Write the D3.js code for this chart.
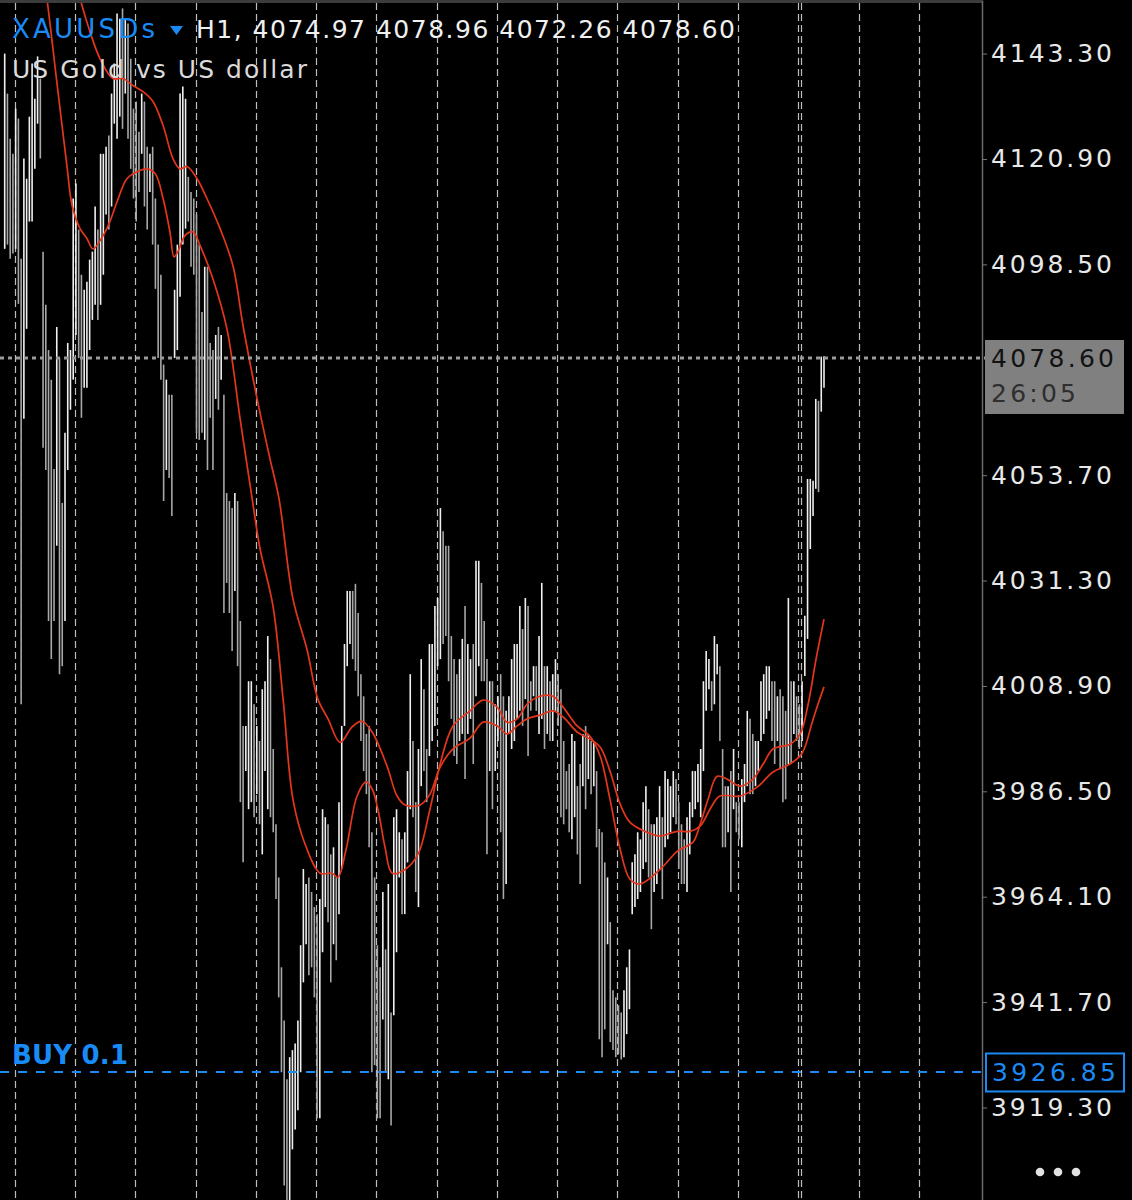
<!DOCTYPE html>
<html><head><meta charset="utf-8">
<script src="https://cdn.jsdelivr.net/npm/d3@7"></script>
<style>html,body{margin:0;padding:0;background:#000;overflow:hidden}</style>
</head><body><svg id="c" width="1132" height="1200"></svg>
<script>
// ---- DATA ----
const symbol = "XAUUSDs";
const headerValues = "H1, 4074.97 4078.96 4072.26 4078.60";
const description = "US Gold vs US dollar";
const highs = [4143.3,4134.8,4125.2,4122.0,4131.6,4129.5,4099.7,4121.0,4116.7,4129.9,4141.2,4133.7,4142.7,4138.0,4101.2,4089.9,4080.3,4074.0,4055.0,4085.2,4078.6,4047.8,4062.7,4081.8,4080.3,4112.5,4115.7,4105.9,4096.3,4093.1,4094.8,4099.5,4101.2,4110.8,4105.9,4122.0,4122.0,4123.5,4125.9,4134.8,4141.2,4151.8,4150.7,4152.9,4150.7,4149.7,4142.2,4131.6,4133.1,4126.7,4134.8,4133.1,4123.5,4122.0,4123.5,4112.5,4102.7,4096.3,4077.2,4074.0,4070.8,4070.8,4093.1,4102.7,4134.8,4136.3,4133.7,4117.1,4113.9,4112.5,4109.1,4102.7,4088.4,4098.0,4098.0,4081.8,4080.3,4083.5,4085.2,4083.5,4070.8,4049.9,4048.2,4046.7,4049.9,4048.2,4022.7,4000.4,4000.4,4009.9,4009.9,4005.0,4000.4,3997.2,4008.2,4009.9,4019.5,4014.6,3995.5,3979.5,3968.2,3949.1,3937.8,3925.3,3930.0,3931.5,3932.9,3937.8,3953.8,3970.0,3966.8,3968.2,3965.1,3961.9,3960.4,3963.6,3982.7,3981.0,3979.5,3973.1,3974.6,3968.2,3984.2,4000.4,4017.8,4029.1,4029.1,4029.1,4030.6,4024.4,4011.4,4006.7,3998.7,4000.4,3977.8,3968.2,3953.8,3949.1,3965.1,3952.9,3966.8,3939.5,3981.0,3982.7,3977.8,3976.3,3977.8,3990.8,4011.4,3997.2,3984.2,3995.5,4014.6,4008.2,3995.5,4017.8,4017.8,4025.9,4027.6,4046.7,4041.8,4038.7,4038.7,4019.5,4014.6,4011.4,4014.6,4018.9,4025.9,4017.8,4014.6,4017.8,4035.5,4035.5,4030.8,4022.7,4014.6,4009.9,4009.9,4005.0,4006.7,4011.4,4006.7,4003.6,4006.7,4014.6,4017.8,4017.8,4025.9,4021.0,4027.6,4025.9,4009.9,4013.1,4013.1,4019.5,4030.8,4013.1,4013.1,4009.9,4011.4,4014.6,4011.4,4008.2,3997.2,3990.8,3992.3,3998.7,3997.2,3987.6,3992.3,3998.7,4000.4,3998.7,3997.2,3997.2,3990.8,3978.5,3977.8,3971.4,3968.2,3958.7,3944.2,3942.7,3941.0,3939.5,3944.2,3949.1,3952.9,3971.4,3973.1,3977.8,3976.3,3984.2,3987.6,3982.7,3979.5,3979.5,3981.0,3987.6,3981.0,3990.8,3989.1,3987.6,3990.8,3989.1,3984.2,3979.5,3976.3,3981.0,3984.2,3990.8,3990.8,3992.3,3995.5,4009.9,4016.3,4014.6,4009.9,4019.5,4017.8,4013.1,3995.5,3987.6,3987.6,3990.8,3995.5,3984.2,3984.2,3989.1,3992.3,4003.6,4001.9,3998.7,3997.2,3997.2,4009.9,4011.4,4013.1,4013.1,4009.9,4009.9,4006.7,4008.2,4006.7,4003.6,4027.6,4009.9,4009.9,4006.7,4005.0,4009.9,4023.8,4052.9,4052.9,4052.5,4069.9,4069.5,4078.9,4078.96];
const lows = [4101.8,4102.7,4099.7,4100.8,4101.8,4090.1,4005.0,4065.7,4084.8,4107.6,4107.6,4118.8,4128.4,4121.0,4059.5,4054.8,4022.7,4014.6,4022.7,4038.7,4011.4,4013.1,4022.7,4054.8,4067.6,4074.0,4083.5,4078.6,4065.9,4072.3,4072.3,4080.3,4086.7,4089.9,4086.7,4089.9,4096.3,4109.1,4105.9,4110.8,4128.4,4125.2,4129.9,4127.3,4134.8,4125.2,4118.8,4112.5,4107.6,4113.9,4122.0,4110.8,4105.9,4113.9,4102.7,4093.3,4078.6,4074.0,4048.2,4054.8,4053.1,4045.0,4078.6,4080.3,4091.6,4102.7,4106.1,4107.6,4098.0,4096.3,4062.7,4061.2,4062.7,4061.2,4054.8,4065.9,4054.8,4069.9,4067.6,4074.0,4024.4,4030.8,4024.4,4016.3,4029.1,4013.1,3984.2,3971.4,3990.8,3982.7,3984.2,3981.0,3985.9,3979.5,3973.1,3990.8,3982.7,3981.0,3977.8,3963.6,3942.7,3926.8,3902.7,3898.0,3898.0,3910.4,3914.6,3918.7,3926.8,3945.9,3954.0,3947.4,3949.1,3942.7,3917.0,3917.0,3952.3,3961.9,3958.7,3945.9,3954.0,3950.6,3960.4,3970.0,4000.4,4013.1,4017.8,4014.6,4012.1,4006.7,3997.2,3990.8,3985.9,3974.6,3926.8,3928.3,3917.0,3917.0,3938.0,3926.8,3925.3,3915.5,3938.9,3952.3,3968.2,3960.4,3960.4,3971.4,3982.7,3981.0,3965.1,3961.9,3987.6,3990.8,3984.2,3994.0,3997.2,4000.4,4013.1,4014.6,4017.8,4019.5,4009.9,4001.9,3994.0,3992.3,3997.2,3998.7,3989.1,3998.7,4001.9,3992.3,4006.7,4013.1,4009.9,4009.9,3973.1,3990.8,3982.7,3990.8,3997.2,3977.8,3963.6,3966.8,3998.7,3995.5,3997.2,4001.9,4003.6,4000.4,4006.1,3994.0,4003.6,4006.7,4003.6,3998.7,4001.9,3995.5,3998.7,3997.2,3997.2,4003.6,4000.4,3981.0,3979.5,3982.7,3977.8,3976.3,3981.0,3973.1,3966.8,3987.6,3982.7,3989.1,3985.9,3987.6,3974.6,3933.8,3930.0,3935.9,3954.0,3933.2,3931.5,3930.0,3930.6,3929.5,3930.0,3934.9,3940.2,3960.4,3961.9,3963.6,3965.1,3970.0,3971.4,3968.2,3957.2,3965.1,3966.8,3970.0,3963.6,3974.6,3976.3,3977.8,3981.0,3979.5,3970.0,3966.8,3966.8,3965.1,3973.1,3981.0,3982.7,3984.2,3981.0,3990.8,4003.6,4008.2,4003.6,4005.0,4011.4,3997.2,3974.6,3974.6,3977.8,3965.1,3982.7,3977.8,3976.3,3974.6,3984.2,3987.6,3985.9,3985.9,3987.6,3990.8,3997.2,3998.7,4001.9,4003.6,3997.2,3992.3,3997.2,3991.2,3984.2,3984.8,3992.3,3992.3,3998.7,3997.2,3995.5,3997.2,4011.0,4018.9,4038.0,4045.0,4050.8,4050.1,4067.2,4072.26];
// fast moving average, sampled at bar positions
const fastMaBar = [12.2,15.4,19.1,22.7,24.6,27.5,30.0,32.2,35.9,38.4,41.0,44.6,48.3,51.9,54.9,57.8,60.3,61.8,63.2,65.8,68.7,71.3,76.0,81.1,85.9,90.3,93.2,97.9,101.6,105.2,109.6,115.1,119.5,121.6,124.6,128.6,131.9,134.1,136.2,138.8,141.4,146.1,150.8,155.2,158.9,163.6,169.8,174.6,179.7,183.3,187.0,190.6,195.4,200.1,203.8,208.9,213.6,217.3,220.9,224.6,228.2,231.9,239.2,245.5,251.2,253.8,256.7,260.0,263.6,268.4,273.1,276.8,280.4,286.6,290.3,293.2,296.1,299.0];
const fastMaVal = [4167.8,4155.0,4136.9,4119.5,4111.0,4106.1,4104.0,4101.8,4104.6,4107.6,4111.8,4116.7,4118.2,4118.8,4117.8,4112.5,4105.4,4100.1,4101.2,4104.6,4105.4,4102.5,4095.4,4084.8,4065.7,4048.7,4038.0,4025.9,4006.1,3984.8,3975.3,3969.1,3969.1,3968.2,3974.2,3985.5,3988.5,3987.0,3982.7,3974.6,3969.1,3969.9,3973.1,3982.7,3992.3,4000.4,4003.6,4005.9,4004.4,4001.2,4001.9,4005.0,4006.7,4006.7,4004.4,4000.4,3998.2,3994.0,3984.8,3974.2,3967.8,3966.8,3969.9,3973.8,3975.7,3979.5,3984.8,3989.7,3989.1,3987.6,3989.1,3992.3,3995.5,3996.5,3998.7,4005.0,4014.6,4023.1];
// slow moving average, sampled at bar positions
const slowMaBar = [23.1,27.5,31.1,34.8,39.5,43.2,46.8,50.5,54.1,57.8,61.4,64.0,66.5,70.2,73.8,78.6,83.3,87.0,92.4,96.8,100.1,105.2,110.3,114.3,118.0,122.4,126.8,130.4,134.1,139.5,143.2,146.1,151.6,155.2,158.9,163.6,169.8,174.6,179.7,183.3,187.0,190.6,195.4,200.1,203.8,208.9,213.6,217.3,220.9,224.6,228.2,234.4,239.2,245.4,250.1,253.8,257.4,261.0,268.4,274.6,280.4,286.6,291.0,294.7,296.8,299.0];
const slowMaVal = [4165.6,4155.0,4148.0,4142.2,4138.0,4138.0,4136.5,4135.2,4133.1,4128.0,4121.0,4118.8,4119.3,4116.7,4112.5,4106.1,4098.2,4085.4,4069.1,4057.2,4048.7,4027.4,4016.7,4006.1,4001.9,3996.9,4000.2,4001.4,3999.1,3991.9,3985.5,3983.6,3983.6,3985.9,3991.6,3995.5,3997.8,4001.2,4000.4,3998.7,4000.4,4001.9,4002.7,4003.6,4002.3,3999.1,3997.6,3995.9,3990.8,3983.8,3979.9,3977.8,3977.0,3978.0,3978.0,3979.1,3982.7,3985.5,3985.5,3987.4,3990.6,3992.3,3994.6,4001.2,4005.0,4008.7];
// visible price-axis labels (4076.10 is covered by the price box in the reference)
const yTicks = [4143.30, 4120.90, 4098.50, 4053.70, 4031.30, 4008.90, 3986.50, 3964.10, 3941.70, 3919.30];
const gridBars = [4, 26, 48, 70, 92, 114, 136, 158, 180, 202, 224, 246, 268, 290, 312, 334];
const separatorBars = [291];
const lastPrice = 4078.60;
const timer = "26:05";
const buyPrice = 3926.85;
const buyLabel = "BUY 0.1";

// ---- DRAWING ----
const W = 1132, H = 1200, axisX = 982;
const FONT = "'DejaVu Sans', 'Liberation Sans', Arial, sans-serif";
const BLUE = "#1a8af5";
const svg = d3.select("#c").style("background", "#000").style("font-family", FONT);
svg.append("rect").attr("width", W).attr("height", H).attr("fill", "#000");

const x = d3.scaleLinear().domain([0, highs.length - 1]).range([4.7, 824]);
const y = d3.scaleLinear().domain([3899.64, 4154.69]).range([H, 0]);

svg.append("clipPath").attr("id", "plot").append("rect")
  .attr("x", 0).attr("y", 3).attr("width", axisX).attr("height", H - 3);
const plot = svg.append("g").attr("clip-path", "url(#plot)");

// vertical dashed grid
plot.selectAll("line.grid").data(gridBars.concat(separatorBars)).join("line")
  .attr("class", "grid")
  .attr("x1", d => Math.round(x(d)) - 0.5).attr("x2", d => Math.round(x(d)) - 0.5)
  .attr("y1", 3).attr("y2", H)
  .attr("stroke", "#bdbdbd").attr("stroke-width", 1.2).attr("stroke-dasharray", "7,4");

// high-low bars
const mids = highs.map((h, i) => (h + lows[i]) / 2);
plot.selectAll("line.bar").data(highs).join("line")
  .attr("class", "bar")
  .attr("x1", (d, i) => x(i)).attr("x2", (d, i) => x(i))
  .attr("y1", d => y(d)).attr("y2", (d, i) => y(lows[i]))
  .attr("stroke", (d, i) => (i === 0 || mids[i] >= mids[i - 1]) ? "#f0f0f0" : "#a8a8a8")
  .attr("stroke-width", 1.6);

// moving averages
const maLine = d3.line().x(d => x(d[0])).y(d => y(d[1])).curve(d3.curveCatmullRom.alpha(0.5));
plot.append("path").datum(slowMaBar.map((b, i) => [b, slowMaVal[i]]))
  .attr("d", maLine).attr("fill", "none").attr("stroke", "#e4361c").attr("stroke-width", 1.7);
plot.append("path").datum(fastMaBar.map((b, i) => [b, fastMaVal[i]]))
  .attr("d", maLine).attr("fill", "none").attr("stroke", "#e4361c").attr("stroke-width", 1.7);

// top border
svg.append("rect").attr("x", 0).attr("y", 0).attr("width", axisX).attr("height", 3).attr("fill", "#3c3c3c");

// price axis
const axis = d3.axisRight(y).tickValues(yTicks).tickFormat(d3.format(".2f"))
  .tickSize(5).tickSizeOuter(0).tickPadding(4);
const ag = svg.append("g").attr("transform", `translate(${axisX},0)`).call(axis);
ag.select(".domain").attr("stroke", "#6a6a6a").attr("stroke-width", 1.5);
ag.selectAll(".tick line").attr("stroke", "#777");
ag.selectAll(".tick text").attr("fill", "#e8e8e8").attr("font-size", 25)
  .attr("font-family", FONT).attr("textLength", 121).attr("lengthAdjust", "spacing");

// current price line and box
const yp = y(lastPrice);
svg.append("line").attr("x1", 0).attr("x2", 986).attr("y1", yp).attr("y2", yp)
  .attr("stroke", "#9a9a9a").attr("stroke-width", 3).attr("stroke-dasharray", "4,4");
svg.append("rect").attr("x", 985).attr("y", yp - 18).attr("width", 139).attr("height", 74).attr("fill", "#808080");
svg.append("text").attr("x", 991).attr("y", yp + 9).text(d3.format(".2f")(lastPrice))
  .attr("fill", "#121212").attr("font-size", 25).attr("textLength", 123).attr("lengthAdjust", "spacing");
svg.append("text").attr("x", 991).attr("y", yp + 44).text(timer)
  .attr("fill", "#2e2e2e").attr("font-size", 25).attr("textLength", 85).attr("lengthAdjust", "spacing");

// buy line, label and box
const yb = y(buyPrice);
svg.append("line").attr("x1", 0).attr("x2", 985).attr("y1", yb).attr("y2", yb)
  .attr("stroke", BLUE).attr("stroke-width", 2).attr("stroke-dasharray", "9,9");
svg.append("text").attr("x", 12).attr("y", yb - 8).text(buyLabel)
  .attr("fill", BLUE).attr("font-size", 26).attr("font-weight", "bold")
  .attr("textLength", 116).attr("lengthAdjust", "spacing");
svg.append("rect").attr("x", 986).attr("y", yb - 18.5).attr("width", 138).attr("height", 38)
  .attr("fill", "#000").attr("stroke", BLUE).attr("stroke-width", 2);
svg.append("text").attr("x", 992).attr("y", yb + 9.5).text(d3.format(".2f")(buyPrice))
  .attr("fill", BLUE).attr("font-size", 25).attr("textLength", 124).attr("lengthAdjust", "spacing");

// header
svg.append("text").attr("x", 12).attr("y", 38).text(symbol)
  .attr("fill", BLUE).attr("font-size", 26).attr("textLength", 143).attr("lengthAdjust", "spacing");
svg.append("path").attr("d", "M170,26 L183,26 L176.5,35 Z").attr("fill", BLUE);
svg.append("text").attr("x", 196).attr("y", 38).text(headerValues)
  .attr("fill", "#f0f0f0").attr("font-size", 25).attr("textLength", 539).attr("lengthAdjust", "spacing");
svg.append("text").attr("x", 12).attr("y", 78).text(description)
  .attr("fill", "#dadada").attr("font-size", 25).attr("textLength", 295).attr("lengthAdjust", "spacing");

// menu dots
svg.selectAll("circle.dot").data([0, 1, 2]).join("circle")
  .attr("class", "dot").attr("cx", d => 1040 + d * 18).attr("cy", 1172).attr("r", 4.3).attr("fill", "#e2e2e2");
</script></body></html>
